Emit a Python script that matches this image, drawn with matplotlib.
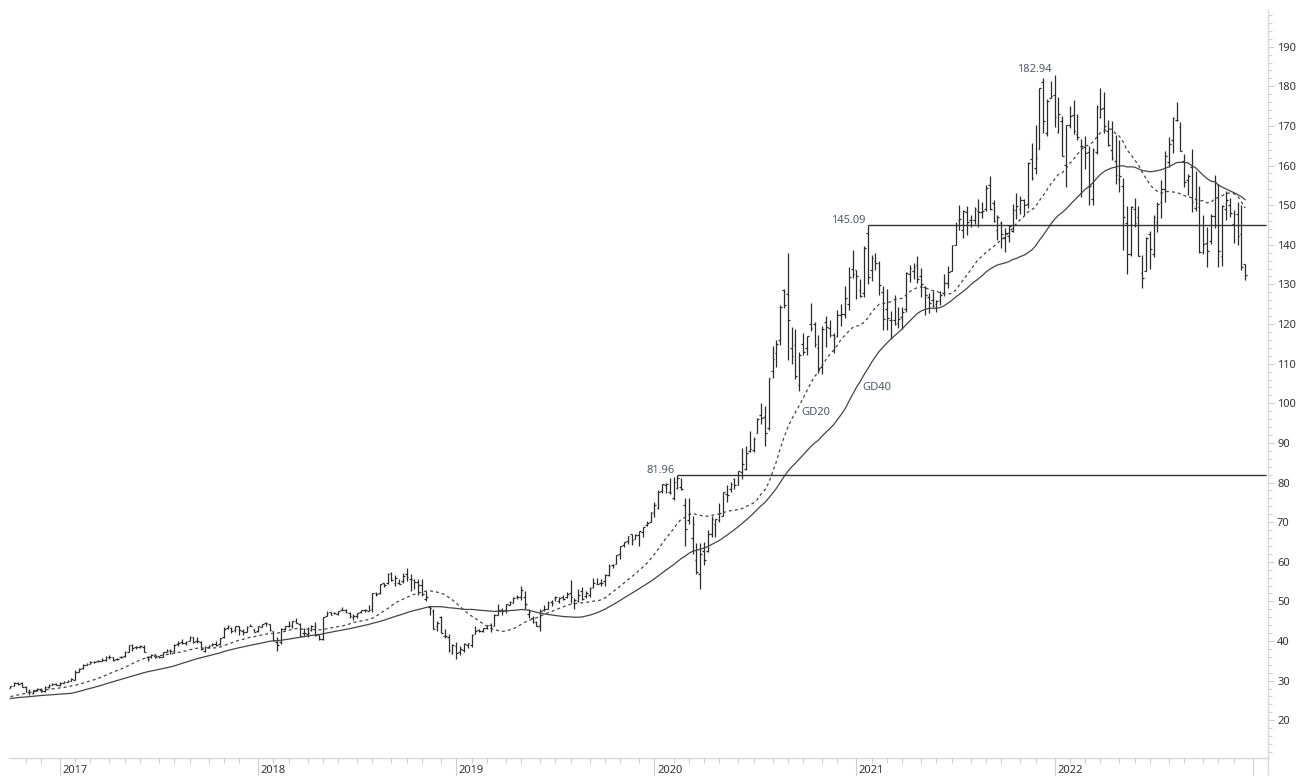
# weekly bar chart with GD20 / GD40 and resistance levels

import numpy as np
import pandas as pd
import matplotlib
matplotlib.use('Agg')
import matplotlib.pyplot as plt
from matplotlib.lines import Line2D
from matplotlib.ticker import MultipleLocator

plt.rcParams['font.family'] = ['Noto Sans', 'DejaVu Sans']

# weekly bars (week of 2016-10-03 up to week of 2022-12-19), one line per year
opens = [
    28.20, 28.76, 29.40, 29.30, 28.41, 27.50, 27.00, 27.60, 27.90, 27.40, 28.40, 28.95, 29.13,
    28.95, 29.47, 29.76, 30.00, 30.23, 32.28, 33.14, 34.00, 34.28, 34.76, 34.85, 35.00, 35.10, 35.93, 35.90, 35.48, 35.90, 36.28, 37.26, 39.00, 38.50, 38.36, 38.59, 35.90, 35.86, 36.66, 36.22, 35.97, 37.20, 37.65, 37.47, 39.27, 39.85, 39.37, 40.03, 40.94, 40.12, 39.75, 37.50, 38.56, 38.95, 39.33, 39.19, 40.98, 43.28, 43.35, 42.70, 43.76, 42.49, 42.37, 43.72, 42.96,
    42.54, 43.59, 44.47, 44.33, 42.54, 39.78, 39.63, 43.00, 43.89, 43.74, 45.07, 44.33, 42.02, 41.66, 42.68, 43.76, 41.71, 40.53, 46.29, 47.25, 47.00, 46.90, 47.90, 47.84, 46.97, 46.01, 46.25, 47.25, 47.88, 47.67, 47.98, 52.08, 52.00, 54.52, 54.70, 57.10, 54.69, 54.70, 55.20, 56.99, 55.55, 55.29, 54.95, 54.22, 50.48, 48.50, 47.50, 43.73, 46.12, 41.25, 41.00, 37.04, 38.72,
    37.17, 37.71, 39.10, 39.06, 41.85, 42.76, 42.43, 43.24, 43.92, 43.87, 46.45, 47.88, 47.91, 49.10, 49.65, 51.10, 51.10, 51.07, 46.93, 45.88, 44.73, 43.90, 47.95, 48.11, 49.88, 50.79, 50.20, 51.02, 51.00, 52.12, 49.50, 50.05, 52.54, 51.47, 51.61, 53.71, 54.43, 54.74, 55.22, 56.57, 59.10, 59.38, 61.86, 64.33, 65.28, 66.97, 65.68, 66.82, 67.50, 69.25, 70.13, 72.36,
    73.45, 77.91, 79.30, 77.51, 76.07, 78.54, 78.84, 74.32, 70.57, 65.94, 60.49, 57.02, 62.69, 62.69, 67.08, 69.49, 70.45, 71.56, 77.04, 78.29, 80.88, 79.44, 82.56, 83.31, 87.84, 88.31, 92.50, 96.99, 96.42, 93.71, 108.20, 112.60, 115.98, 128.70, 127.58, 113.95, 114.72, 104.54, 115.01, 113.91, 120.06, 119.96, 114.01, 109.11, 120.50, 118.92, 117.18, 116.97, 122.31, 122.60, 125.02, 133.99,
    133.52, 128.50, 127.78, 143.07, 133.75, 136.03, 135.49, 128.01, 123.75, 120.93, 121.03, 120.33, 121.65, 123.87, 132.52, 133.51, 134.83, 132.04, 129.41, 126.94, 126.01, 125.08, 126.17, 127.82, 130.30, 133.41, 140.07, 146.21, 143.75, 148.27, 146.36, 146.20, 148.54, 148.31, 149.00, 155.00, 150.63, 143.80, 145.47, 141.76, 142.27, 143.45, 148.68, 148.99, 151.41, 150.37, 161.68, 159.37, 164.29, 181.12, 168.28, 177.09,
    177.83, 168.47, 171.34, 160.02, 170.16, 172.86, 168.02, 164.98, 164.70, 163.36, 151.45, 163.51, 172.17, 174.57, 168.71, 163.92, 161.12, 156.71, 154.93, 145.55, 137.79, 149.07, 147.03, 132.87, 133.42, 142.70, 137.77, 145.67, 150.74, 154.01, 161.01, 166.37, 171.52, 169.69, 161.15, 156.47, 159.59, 149.31, 149.66, 138.21, 140.42, 141.07, 147.19, 155.08, 137.11, 148.97, 150.16, 145.14, 147.77, 142.70, 135.11,
]
highs = [
    28.64, 29.67, 29.55, 29.59, 28.56, 27.83, 27.74, 28.10, 28.12, 28.68, 29.05, 29.38, 29.50,
    29.54, 30.00, 30.16, 30.60, 32.62, 33.23, 34.07, 34.37, 35.07, 34.90, 35.26, 35.70, 36.12, 36.37, 35.97, 35.73, 36.09, 37.60, 39.10, 39.16, 38.72, 38.99, 38.95, 36.26, 36.79, 36.79, 36.33, 37.33, 37.90, 38.10, 39.27, 40.05, 40.63, 40.00, 41.23, 41.06, 40.99, 40.00, 38.68, 38.87, 39.50, 40.00, 40.87, 43.56, 44.06, 43.50, 43.88, 43.80, 42.92, 43.87, 44.30, 43.05,
    43.84, 44.34, 44.85, 44.33, 42.54, 40.97, 43.25, 43.91, 45.15, 45.00, 45.88, 44.55, 43.19, 43.57, 43.96, 44.74, 41.73, 46.06, 47.59, 47.39, 47.41, 47.57, 48.55, 48.09, 47.30, 46.82, 47.11, 47.95, 48.16, 48.99, 52.09, 52.45, 54.48, 54.76, 57.22, 57.42, 56.60, 55.74, 57.06, 58.37, 56.82, 55.75, 55.59, 55.59, 52.53, 48.74, 47.99, 45.08, 46.24, 42.95, 41.88, 39.31, 39.71,
    38.63, 39.47, 39.53, 41.82, 43.89, 43.12, 43.33, 43.97, 44.44, 46.83, 49.42, 48.22, 49.27, 50.04, 51.04, 51.49, 53.83, 52.57, 48.12, 46.43, 45.15, 47.98, 49.00, 49.98, 50.39, 51.27, 51.10, 51.63, 52.43, 55.34, 50.88, 53.04, 53.61, 52.61, 53.60, 55.90, 55.94, 55.62, 56.87, 59.41, 59.53, 61.68, 64.00, 65.11, 66.44, 67.00, 66.90, 67.75, 68.83, 70.20, 72.50, 75.15,
    78.17, 79.68, 80.00, 81.02, 81.31, 81.96, 81.16, 76.04, 76.00, 71.61, 64.77, 64.67, 64.96, 67.92, 71.58, 70.75, 74.75, 77.59, 79.26, 80.22, 81.06, 82.94, 88.69, 89.14, 93.10, 91.50, 96.32, 99.96, 99.25, 106.42, 114.41, 116.04, 124.87, 128.79, 137.98, 119.14, 118.83, 112.86, 117.72, 117.00, 125.39, 120.42, 117.28, 119.62, 121.99, 120.99, 117.62, 123.47, 124.98, 129.58, 134.41, 138.79,
    133.61, 131.45, 139.67, 145.09, 137.42, 137.88, 136.01, 129.72, 128.72, 123.21, 127.22, 124.24, 124.18, 133.04, 135.00, 135.53, 137.07, 134.07, 129.54, 127.94, 128.32, 126.16, 128.46, 132.55, 134.64, 140.00, 145.65, 150.00, 148.72, 149.83, 147.46, 149.44, 151.68, 150.86, 154.98, 157.26, 151.42, 147.47, 145.96, 144.22, 144.90, 150.18, 153.17, 152.20, 151.57, 161.02, 165.70, 170.30, 179.63, 182.13, 176.85, 181.33,
    182.94, 177.18, 172.54, 170.35, 175.00, 176.65, 172.95, 166.69, 167.36, 165.02, 164.48, 175.28, 179.61, 178.49, 171.53, 171.27, 167.66, 166.48, 156.74, 149.77, 149.68, 151.74, 149.87, 137.34, 141.91, 143.49, 147.55, 150.86, 156.28, 163.63, 167.19, 172.17, 176.15, 171.05, 162.90, 157.82, 164.26, 158.74, 154.72, 147.54, 144.52, 147.85, 157.50, 155.45, 150.01, 153.59, 151.83, 148.72, 150.92, 149.97, 135.20,
]
lows = [
    28.07, 28.76, 28.85, 28.33, 27.03, 26.46, 26.66, 27.50, 27.17, 27.06, 28.12, 28.90, 28.80,
    28.69, 29.40, 29.70, 29.87, 30.16, 32.22, 33.05, 33.82, 34.10, 34.47, 34.70, 34.90, 34.91, 35.53, 35.02, 35.14, 35.73, 36.07, 37.13, 37.55, 38.04, 38.12, 37.10, 35.01, 35.81, 35.60, 35.60, 35.86, 37.20, 36.82, 37.03, 38.66, 39.20, 39.10, 39.91, 39.60, 39.49, 37.62, 37.29, 38.12, 38.76, 38.76, 38.90, 40.70, 43.14, 42.07, 42.39, 41.62, 41.60, 42.29, 43.68, 42.30,
    42.31, 43.42, 43.77, 42.51, 40.03, 37.56, 39.35, 42.84, 43.47, 43.17, 44.44, 41.22, 41.15, 41.12, 42.44, 41.35, 40.16, 40.21, 46.23, 46.44, 46.72, 46.53, 47.79, 47.06, 45.86, 45.18, 45.85, 47.05, 47.30, 47.49, 47.37, 51.37, 51.76, 53.60, 54.37, 55.15, 53.83, 54.32, 54.57, 55.14, 52.55, 53.25, 51.52, 51.36, 50.12, 46.48, 43.02, 42.56, 41.91, 40.83, 37.17, 36.65, 35.50,
    36.47, 37.31, 38.11, 38.42, 41.80, 42.38, 42.37, 43.08, 42.38, 43.85, 46.45, 46.65, 47.09, 48.98, 49.50, 50.58, 50.28, 48.19, 45.71, 44.45, 43.75, 42.57, 47.58, 48.04, 48.80, 50.16, 49.60, 50.39, 50.88, 49.65, 48.15, 49.78, 50.25, 50.83, 51.06, 53.38, 54.37, 53.78, 53.78, 56.40, 58.30, 59.33, 60.64, 63.84, 64.57, 64.21, 65.63, 64.07, 66.23, 68.90, 70.09, 71.30,
    73.19, 77.39, 77.39, 77.07, 75.56, 78.46, 78.00, 64.09, 69.43, 62.00, 57.00, 53.15, 59.22, 62.35, 66.36, 66.36, 69.99, 71.46, 75.05, 77.58, 78.27, 79.30, 80.84, 83.15, 87.79, 87.82, 92.47, 94.67, 89.14, 93.25, 106.29, 109.11, 114.80, 123.94, 110.89, 110.00, 106.09, 103.10, 112.22, 112.25, 118.15, 114.28, 107.72, 107.32, 114.13, 116.81, 112.59, 116.81, 119.49, 121.54, 123.45, 131.72,
    126.38, 126.86, 126.94, 130.21, 130.93, 133.69, 127.41, 118.39, 118.39, 116.21, 119.68, 118.92, 118.86, 123.07, 130.63, 131.30, 130.45, 126.70, 122.25, 122.77, 124.21, 123.13, 124.83, 127.07, 129.21, 133.35, 140.07, 143.63, 141.67, 142.54, 144.50, 145.30, 144.50, 146.83, 148.61, 148.70, 145.76, 141.27, 139.11, 138.27, 140.66, 143.16, 146.41, 147.80, 147.48, 149.34, 156.36, 157.80, 164.28, 168.34, 167.46, 177.07,
    169.69, 168.17, 162.30, 154.70, 169.51, 168.04, 166.56, 152.00, 159.04, 150.10, 150.10, 163.01, 172.10, 168.24, 165.04, 161.50, 155.38, 153.27, 138.80, 132.61, 137.14, 144.46, 137.06, 129.04, 133.32, 133.77, 136.93, 143.25, 146.70, 150.80, 159.63, 163.25, 171.31, 163.56, 154.67, 152.68, 148.37, 148.56, 138.00, 137.69, 134.37, 140.27, 144.13, 134.38, 134.59, 146.15, 146.93, 140.35, 140.00, 133.73, 131.00,
]
closes = [
    28.52, 29.41, 29.15, 28.43, 27.21, 27.11, 27.52, 27.95, 27.48, 28.49, 28.96, 29.13, 28.96,
    29.48, 29.76, 30.00, 30.49, 32.27, 33.03, 33.93, 34.17, 34.79, 34.79, 35.00, 35.16, 35.92, 35.84, 35.26, 35.57, 35.91, 37.24, 39.03, 38.27, 38.40, 38.86, 37.25, 35.57, 36.57, 36.00, 36.04, 37.26, 37.57, 37.38, 39.10, 39.37, 39.37, 39.81, 41.01, 39.66, 39.97, 37.97, 38.53, 38.83, 39.25, 39.06, 40.76, 43.13, 43.67, 42.54, 43.74, 42.76, 42.34, 43.49, 43.75, 42.31,
    43.75, 44.27, 44.62, 42.88, 40.13, 39.10, 43.11, 43.88, 44.05, 45.00, 44.50, 41.24, 41.95, 42.10, 43.68, 41.43, 40.58, 45.96, 47.15, 46.58, 47.15, 47.56, 47.93, 47.21, 46.23, 46.28, 46.99, 47.84, 47.86, 47.74, 52.00, 51.88, 54.40, 54.05, 56.91, 55.33, 55.96, 54.42, 56.44, 56.07, 55.53, 54.83, 54.08, 51.87, 51.12, 48.38, 43.07, 44.65, 42.12, 41.37, 37.68, 39.06, 37.06,
    38.07, 39.20, 39.44, 41.63, 42.60, 42.60, 43.24, 43.96, 43.23, 46.53, 47.76, 47.49, 49.25, 49.72, 50.97, 51.08, 52.94, 49.30, 47.25, 44.74, 43.77, 47.54, 48.19, 49.70, 49.48, 51.06, 50.83, 50.65, 51.94, 51.01, 50.25, 51.63, 50.66, 52.19, 53.31, 54.69, 54.43, 54.71, 56.75, 59.05, 59.10, 61.65, 63.96, 65.03, 66.44, 65.45, 66.81, 67.68, 68.79, 69.86, 72.45, 74.36,
    77.58, 79.68, 79.58, 77.38, 80.01, 81.24, 78.26, 68.34, 72.26, 69.49, 57.31, 61.94, 60.35, 67.00, 70.70, 70.74, 72.27, 77.53, 76.93, 79.72, 79.49, 82.88, 84.70, 87.43, 88.41, 91.03, 95.92, 96.33, 92.62, 106.26, 111.11, 114.91, 124.37, 124.81, 120.96, 112.00, 106.84, 112.28, 113.02, 116.97, 119.02, 115.04, 108.86, 118.69, 119.26, 117.34, 116.59, 122.25, 122.41, 126.66, 131.97, 132.69,
    132.05, 127.14, 139.07, 131.96, 136.76, 135.37, 129.87, 121.26, 121.42, 121.03, 119.99, 121.21, 123.00, 133.00, 134.16, 134.32, 131.46, 130.21, 127.45, 125.43, 124.61, 125.89, 127.35, 130.46, 133.11, 139.96, 145.11, 146.39, 148.56, 145.86, 146.14, 149.10, 148.19, 148.60, 154.30, 148.97, 146.06, 146.92, 142.65, 142.90, 144.84, 148.69, 149.80, 151.28, 149.99, 160.55, 156.81, 161.84, 179.45, 171.14, 176.28, 177.57,
    172.17, 173.07, 162.41, 170.33, 172.39, 168.64, 167.30, 164.85, 163.17, 154.73, 163.98, 174.72, 174.31, 170.09, 165.29, 161.79, 157.65, 157.28, 147.11, 137.59, 149.64, 145.38, 137.13, 131.56, 141.66, 138.93, 147.04, 150.17, 154.09, 162.51, 165.35, 172.10, 171.52, 163.62, 155.81, 157.37, 150.70, 150.43, 138.20, 140.09, 138.38, 147.27, 155.74, 138.38, 149.70, 151.29, 148.11, 147.81, 142.16, 134.51, 132.30,
]
# closes of the 39 weeks before the first bar, needed for the averages
warmup_closes = [
    24.24, 24.28, 25.36, 24.34, 23.51, 23.50, 24.01, 24.23, 25.75, 25.57, 26.48, 26.42, 27.50,
    27.17, 27.46, 26.42, 23.44, 23.18, 22.63, 23.81, 25.09, 24.48, 24.71, 23.83, 23.35, 23.97,
    24.17, 24.70, 24.67, 26.05, 26.87, 27.05, 27.34, 26.74, 26.93, 25.78, 28.73, 28.18, 28.26,
]
levels = [81.96, 145.09]
peak = 182.94
first_week = '2016-10-07'

n = len(closes)
x = np.arange(n)

# week-ending dates, also past the last bar so the axis can carry 2023
week_end = pd.date_range(first_week, periods=n + 6, freq='W-FRI')
week_end = pd.DatetimeIndex([d - pd.Timedelta(days=1) if (d.month == 1 and d.day == 1) else d
                             for d in week_end])
years = pd.Series(week_end.year)
months = pd.Series(week_end.year * 12 + week_end.month)
year_pos = [i for i in range(1, len(years)) if years[i] != years[i - 1]]
month_pos = [i for i in range(1, len(months)) if months[i] != months[i - 1]]

full = pd.Series(warmup_closes + closes)
gd20 = full.rolling(20).mean().to_numpy()[len(warmup_closes):]
gd40 = full.rolling(40).mean().to_numpy()[len(warmup_closes):]

fig = plt.figure(figsize=(12.98, 7.76), dpi=100)
ax = fig.add_axes([9 / 1298, 18 / 776, 1259 / 1298, 748 / 776])
x_end = 329.6
ax.set_xlim(-0.37, x_end)
ax.set_ylim(10.47, 199.26)

bar_col = '#2b2b2b'
ax.vlines(x, lows, highs, color=bar_col, lw=0.9)
ax.hlines(opens, x - 0.45, x, color=bar_col, lw=0.9)
ax.hlines(closes, x, x + 0.45, color=bar_col, lw=0.9)

ax.plot(x, gd40, color='#454545', lw=0.9)
ax.plot(x, gd20, color='#454545', lw=0.9, ls=(0, (2.4, 2.4)))

txt_col = '#4f5968'
ax.text(207.5, 97.6, 'GD20', ha='left', va='center', fontsize=8, color=txt_col)
ax.text(223.6, 103.9, 'GD40', ha='left', va='center', fontsize=8, color=txt_col)

for lv in levels:
    i = highs.index(lv)
    ax.hlines(lv, i, x_end, color='#333333', lw=1)
    ax.annotate(f'{lv:.2f}', xy=(i, lv), xytext=(-2, 1), textcoords='offset points',
                ha='right', va='baseline', fontsize=8, color=txt_col)
i = highs.index(peak)
ax.annotate(f'{peak:.2f}', xy=(i, peak), xytext=(-2, 2), textcoords='offset points',
            ha='right', va='baseline', fontsize=8, color=txt_col)

# x axis: year ticks long, month ticks short
ax.set_xticks(year_pos)
ax.set_xticklabels([])
ax.set_xticks(month_pos, minor=True)
ax.tick_params(axis='x', which='major', length=13, width=0.8, color='#cfcfcf')
ax.tick_params(axis='x', which='minor', length=3.5, width=0.8, color='#cfcfcf')
for p in year_pos:
    if p < n:
        ax.annotate(str(week_end[p].year), xy=(p, 0), xycoords=('data', 'axes fraction'),
                    xytext=(1.8, -5.3), textcoords='offset points', ha='left', va='top',
                    fontsize=8, color='#333333', annotation_clip=False)

# y axis on the right
ax.yaxis.tick_right()
ax.yaxis.set_major_locator(MultipleLocator(10))
ax.yaxis.set_minor_locator(MultipleLocator(2))
ax.tick_params(axis='y', which='major', length=4.5, width=0.8, color='#cfcfcf',
               labelsize=8, labelcolor='#333333', pad=2)
ax.tick_params(axis='y', which='minor', length=3, width=0.8, color='#cfcfcf')

for s in ['left', 'top']:
    ax.spines[s].set_visible(False)
for s in ['right', 'bottom']:
    ax.spines[s].set_color('#d9d9d9')
    ax.spines[s].set_linewidth(1)
fig.add_artist(Line2D([1268 / 1298] * 2, [0, 18 / 776], transform=fig.transFigure,
                      color='#d9d9d9', lw=1))

fig.savefig('out.png', dpi=100)
